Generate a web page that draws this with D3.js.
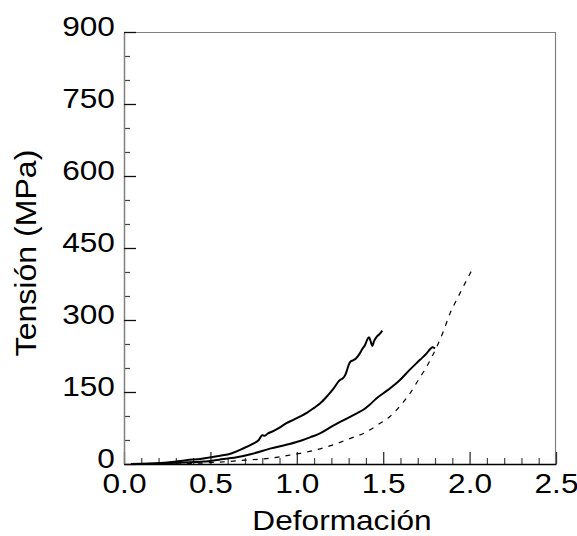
<!DOCTYPE html>
<html>
<head>
<meta charset="utf-8">
<script src="https://cdn.jsdelivr.net/npm/d3@7"></script>
<style>
  html, body { margin: 0; padding: 0; background: #fff; }
  svg { display: block; }
  text { font-family: "Liberation Sans", Arial, Helvetica, sans-serif; fill: #000; }
</style>
</head>
<body>
<svg id="chart" width="577" height="536"></svg>
<script>
// ---- data ----
const xMajorTicks = [0.0, 0.5, 1.0, 1.5, 2.0, 2.5];
const yMajorTicks = [0, 150, 300, 450, 600, 750, 900];
const xLabel = "Deformación";
const yLabel = "Tensión (MPa)";

// upper solid curve
const curveA_x = [0.04, 0.15, 0.25, 0.36, 0.45, 0.556, 0.62, 0.68, 0.75, 0.78, 0.80, 0.815, 0.83, 0.86, 0.90, 0.94, 0.98, 1.019, 1.06, 1.10, 1.134, 1.17, 1.21, 1.25, 1.265, 1.28, 1.29, 1.30, 1.31, 1.325, 1.34, 1.36, 1.38, 1.395, 1.405, 1.418, 1.428, 1.437, 1.447, 1.462, 1.48, 1.495];
const curveA_y = [0, 1, 3, 8, 11, 17, 22, 31, 43, 50, 60, 59, 63, 68, 76, 85, 92, 99, 107, 117, 126, 139, 156, 175, 178, 185, 195, 206, 213, 216, 219, 228, 240, 248, 257, 264, 255, 246, 256, 265, 271, 278];

// lower solid curve
const curveB_x = [0.04, 0.2, 0.35, 0.459, 0.55, 0.652, 0.75, 0.845, 0.95, 1.019, 1.08, 1.134, 1.211, 1.308, 1.35, 1.385, 1.42, 1.462, 1.53, 1.597, 1.65, 1.713, 1.75, 1.771, 1.785, 1.80];
const curveB_y = [0, 1, 3, 5, 9, 14, 22, 32, 41, 48, 56, 64, 80, 98, 106, 113, 123, 137, 155, 175, 195, 217, 230, 239, 243, 241];

// dashed curve
const curveC_x = [0.3, 0.45, 0.594, 0.7, 0.845, 0.95, 1.019, 1.096, 1.211, 1.3, 1.404, 1.47, 1.539, 1.6, 1.655, 1.7, 1.752, 1.78, 1.81, 1.85, 1.887, 1.925, 1.963, 2.016];
const curveC_y = [0, 2, 5, 8, 12, 18, 22, 28, 40, 52, 67, 82, 99, 122, 147, 173, 203, 222, 244, 278, 314, 342, 369, 406];

// ---- layout ----
const svg = d3.select("#chart");
const mLeft = 124, mRight = 556, mTop = 32, mBottom = 464;
const x = d3.scaleLinear().domain([0, 2.5]).range([mLeft, mRight]);
const y = d3.scaleLinear().domain([0, 900]).range([mBottom, mTop]);
const FS = 28, SX = 1.13;

const xMinor = d3.range(0, 26).map(i => i / 10).filter(v => !xMajorTicks.some(m => Math.abs(m - v) < 1e-9));
const yMinor = d3.range(0, 901, 50).filter(v => !yMajorTicks.includes(v));

// frame (top/right)
svg.append("line").attr("x1", mLeft).attr("x2", mRight).attr("y1", mTop + 0.5).attr("y2", mTop + 0.5)
  .attr("stroke", "#808080").attr("stroke-width", 1.2);
svg.append("line").attr("x1", mRight - 0.5).attr("x2", mRight - 0.5).attr("y1", mTop).attr("y2", mBottom)
  .attr("stroke", "#808080").attr("stroke-width", 1.2);

// minor ticks
const gxm = svg.append("g").attr("transform", `translate(0,${mBottom})`)
  .call(d3.axisBottom(x).tickValues(xMinor).tickSize(-6).tickSizeOuter(0).tickFormat(""));
gxm.select(".domain").remove();
gxm.selectAll("line").attr("stroke", "#444").attr("stroke-width", 1.2);

const gym = svg.append("g").attr("transform", `translate(${mLeft},0)`)
  .call(d3.axisLeft(y).tickValues(yMinor).tickSize(-6).tickSizeOuter(0).tickFormat(""));
gym.select(".domain").remove();
gym.selectAll("line").attr("stroke", "#444").attr("stroke-width", 1.2);

// major axes
const gx = svg.append("g").attr("transform", `translate(0,${mBottom})`)
  .call(d3.axisBottom(x).tickValues(xMajorTicks).tickSize(-12).tickSizeOuter(0).tickPadding(9)
    .tickFormat(d3.format(".1f")));
gx.select(".domain").attr("stroke", "#000").attr("stroke-width", 1.5);
gx.selectAll("line").attr("stroke", "#333").attr("stroke-width", 1.3);
gx.selectAll("text").attr("font-size", FS).attr("fill", "#000")
  .attr("transform", `scale(${SX},1)`);

const gy = svg.append("g").attr("transform", `translate(${mLeft},0)`)
  .call(d3.axisLeft(y).tickValues(yMajorTicks).tickSize(-12).tickSizeOuter(0).tickPadding(8)
    .tickFormat(d3.format("d")));
gy.select(".domain").attr("stroke", "#808080").attr("stroke-width", 1.5);
gy.selectAll("line").attr("stroke", "#111").attr("stroke-width", 1.3);
gy.selectAll("text").attr("font-size", FS).attr("fill", "#000")
  .attr("dy", "0.12em").attr("transform", `scale(${SX},1)`);
svg.selectAll("g").attr("font-family", null);

// axis titles
svg.append("text").attr("transform", `translate(${(mLeft + mRight) / 2 + 2},530) scale(${SX},1)`)
  .attr("text-anchor", "middle").attr("font-size", FS).text(xLabel);
svg.append("text").attr("transform", `translate(36,253) rotate(-90) scale(1.07,1)`)
  .attr("text-anchor", "middle").attr("font-size", 30).text(yLabel);

// curves
const line = d3.line().x(d => x(d[0])).y(d => y(d[1])).curve(d3.curveMonotoneX);
const zip = (a, b) => a.map((v, i) => [v, b[i]]);

svg.append("path").datum(zip(curveC_x, curveC_y)).attr("d", line)
  .attr("fill", "none").attr("stroke", "#000").attr("stroke-width", 1.2).attr("stroke-dasharray", "5,6");
svg.append("path").datum(zip(curveB_x, curveB_y)).attr("d", line)
  .attr("fill", "none").attr("stroke", "#000").attr("stroke-width", 2).attr("stroke-linejoin", "round");
svg.append("path").datum(zip(curveA_x, curveA_y)).attr("d", line)
  .attr("fill", "none").attr("stroke", "#000").attr("stroke-width", 2).attr("stroke-linejoin", "round");
</script>
</body>
</html>
